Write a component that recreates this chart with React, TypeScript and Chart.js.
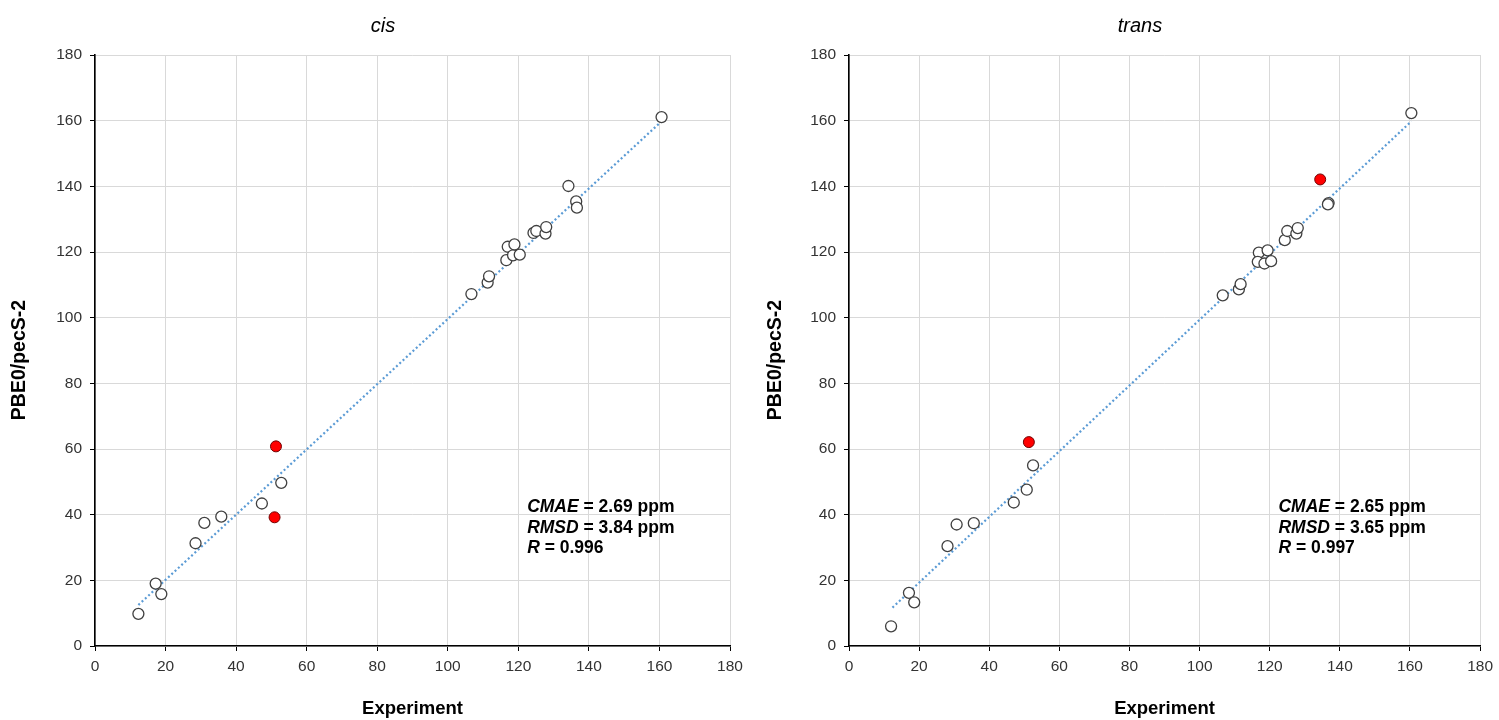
import { useEffect, useRef } from 'react';
import { Chart, registerables } from 'chart.js';

Chart.register(...registerables);

const FONT = '"Liberation Sans", Arial, sans-serif';

// ---- cis data ----
const cisExpWhite = [12.3, 17.2, 18.8, 28.5, 31.0, 35.8, 47.3, 52.8, 106.7, 111.3, 111.7, 116.6, 117.0, 118.5, 118.9, 120.4, 124.3, 125.1, 127.7, 127.9, 134.2, 136.4, 136.6, 160.6];
const cisCalcWhite = [9.8, 19.0, 15.8, 31.3, 37.5, 39.4, 43.4, 49.7, 107.2, 110.7, 112.6, 117.5, 121.6, 119.0, 122.3, 119.2, 125.8, 126.4, 125.6, 127.6, 140.1, 135.4, 133.5, 161.1];
const cisExpRed = [50.9, 51.3];
const cisCalcRed = [39.2, 60.8];
const cisTrendX = [12.3, 160.6];
const cisTrendY = [12.5, 159.8];
const cisStatLabels = ['CMAE', 'RMSD', 'R'];
const cisStatValues = [' = 2.69 ppm', ' = 3.84 ppm', ' = 0.996'];

// ---- trans data ----
const transExpWhite = [12.0, 17.1, 18.6, 28.1, 30.7, 35.6, 47.0, 50.7, 52.5, 106.6, 111.2, 111.7, 116.9, 119.4, 116.6, 118.5, 120.4, 124.3, 125.0, 127.6, 128.0, 136.8, 136.6, 160.4];
const transCalcWhite = [6.0, 16.2, 13.3, 30.4, 37.0, 37.4, 43.7, 47.6, 55.0, 106.8, 108.6, 110.2, 119.8, 120.5, 117.0, 116.5, 117.2, 123.6, 126.4, 125.6, 127.3, 134.9, 134.5, 162.3];
const transExpRed = [51.3, 134.4];
const transCalcRed = [62.1, 142.1];
const transTrendX = [12.4, 160.4];
const transTrendY = [11.7, 159.8];
const transStatLabels = ['CMAE', 'RMSD', 'R'];
const transStatValues = [' = 2.65 ppm', ' = 3.65 ppm', ' = 0.997'];

// ---- axes ----
const axisMin = 0;
const axisMax = 180;
const axisStep = 20;
const xAxisTitle = 'Experiment';
const yAxisTitle = 'PBE0/pecS-2';
const statAnchorX = 122.5;
const statAnchorY = 40.9;

const zip = (xs: number[], ys: number[]) => xs.map((x, i) => ({ x, y: ys[i] }));

const overlayPlugin = {
  id: 'overlay',
  afterDraw(chart: any, _args: any, opts: any) {
    const { ctx } = chart;
    const xs = chart.scales.x;
    const ys = chart.scales.y;
    ctx.save();
    ctx.fillStyle = '#000';
    ctx.textBaseline = 'alphabetic';
    ctx.textAlign = 'center';
    ctx.font = `italic 20px ${FONT}`;
    ctx.fillText(opts.title, opts.titleX, 31.5);

    // y axis title
    ctx.save();
    ctx.translate(opts.yTitleX, 360);
    ctx.rotate(-Math.PI / 2);
    ctx.textBaseline = 'middle';
    ctx.font = `bold 19.5px ${FONT}`;
    ctx.fillText(yAxisTitle, 0, 0);
    ctx.restore();

    const x0 = xs.getPixelForValue(statAnchorX);
    const y0 = ys.getPixelForValue(statAnchorY);
    ctx.textAlign = 'left';
    opts.labels.forEach((lab: string, i: number) => {
      const y = y0 + i * 20.8;
      ctx.font = `italic bold 17.5px ${FONT}`;
      ctx.fillText(lab, x0, y);
      const w = ctx.measureText(lab).width;
      ctx.font = `bold 17.5px ${FONT}`;
      ctx.fillText(opts.values[i], x0 + w, y);
    });
    ctx.restore();
  },
};

type PanelProps = {
  left: number;
  width: number;
  axisWidth: number;
  padRight: number;
  yTitleX: number;
  title: string;
  titleX: number;
  expW: number[];
  calcW: number[];
  expR: number[];
  calcR: number[];
  trendX: number[];
  trendY: number[];
  labels: string[];
  values: string[];
};

function Panel(p: PanelProps) {
  const ref = useRef<HTMLCanvasElement | null>(null);
  useEffect(() => {
    if (!ref.current) return;
    const tickFont = { family: FONT, size: 15.5 };
    const titleFont = { family: FONT, size: 18.5, weight: 'bold' as const };
    const chart = new Chart(ref.current, {
      type: 'scatter',
      data: {
        datasets: [
          {
            data: zip(p.expW, p.calcW),
            backgroundColor: '#ffffff',
            borderColor: '#404040',
            borderWidth: 1.3,
            pointRadius: 5.5,
            pointHoverRadius: 5.5,
          },
          {
            data: zip(p.expR, p.calcR),
            backgroundColor: '#ff0000',
            borderColor: '#700000',
            borderWidth: 1,
            pointRadius: 5.5,
            pointHoverRadius: 5.5,
          },
          {
            data: zip(p.trendX, p.trendY),
            showLine: true,
            borderColor: '#5b9bd5',
            borderWidth: 2.2,
            borderDash: [2, 2.5],
            pointRadius: 0,
            fill: false,
          } as any,
        ],
      },
      options: {
        responsive: false,
        animation: false,
        devicePixelRatio: 1,
        layout: { padding: { top: 55, right: p.padRight, bottom: 0, left: 0 } },
        plugins: {
          legend: { display: false },
          title: { display: false },
          tooltip: { enabled: false },
          overlay: { title: p.title, titleX: p.titleX, yTitleX: p.yTitleX, labels: p.labels, values: p.values },
        } as any,
        scales: {
          x: {
            type: 'linear',
            min: axisMin,
            max: axisMax,
            ticks: { stepSize: axisStep, color: '#333', font: tickFont, padding: 6, maxRotation: 0 },
            grid: { color: '#d9d9d9', lineWidth: 1, tickColor: '#000', tickLength: 5 },
            border: { color: '#000', width: 1.6 },
            title: { display: true, text: xAxisTitle, color: '#000', font: titleFont, padding: { top: 0, bottom: 0 } },
            afterFit: (s: any) => { s.height = 74; },
          },
          y: {
            type: 'linear',
            min: axisMin,
            max: axisMax,
            ticks: { stepSize: axisStep, color: '#333', font: tickFont, padding: 8 },
            grid: { color: '#d9d9d9', lineWidth: 1, tickColor: '#000', tickLength: 5 },
            border: { color: '#000', width: 1.6 },
            title: { display: false },
            afterFit: (s: any) => { s.width = p.axisWidth; },
          },
        },
      },
      plugins: [overlayPlugin as any],
    });
    return () => chart.destroy();
  }, []);
  return (
    <canvas
      ref={ref}
      width={p.width}
      height={720}
      style={{ position: 'absolute', left: p.left, top: 0, width: p.width, height: 720 }}
    />
  );
}

export default function App() {
  return (
    <div style={{ position: 'fixed', left: 0, top: 0, width: 1499, height: 720, background: '#fff', overflow: 'hidden' }}>
      <Panel
        left={0}
        width={749}
        axisWidth={95}
        padRight={19}
        yTitleX={20}
        title="cis"
        titleX={383}
        expW={cisExpWhite}
        calcW={cisCalcWhite}
        expR={cisExpRed}
        calcR={cisCalcRed}
        trendX={cisTrendX}
        trendY={cisTrendY}
        labels={cisStatLabels}
        values={cisStatValues}
      />
      <Panel
        left={750}
        width={749}
        axisWidth={99}
        padRight={17}
        yTitleX={26}
        title="trans"
        titleX={390}
        expW={transExpWhite}
        calcW={transCalcWhite}
        expR={transExpRed}
        calcR={transCalcRed}
        trendX={transTrendX}
        trendY={transTrendY}
        labels={transStatLabels}
        values={transStatValues}
      />
    </div>
  );
}
